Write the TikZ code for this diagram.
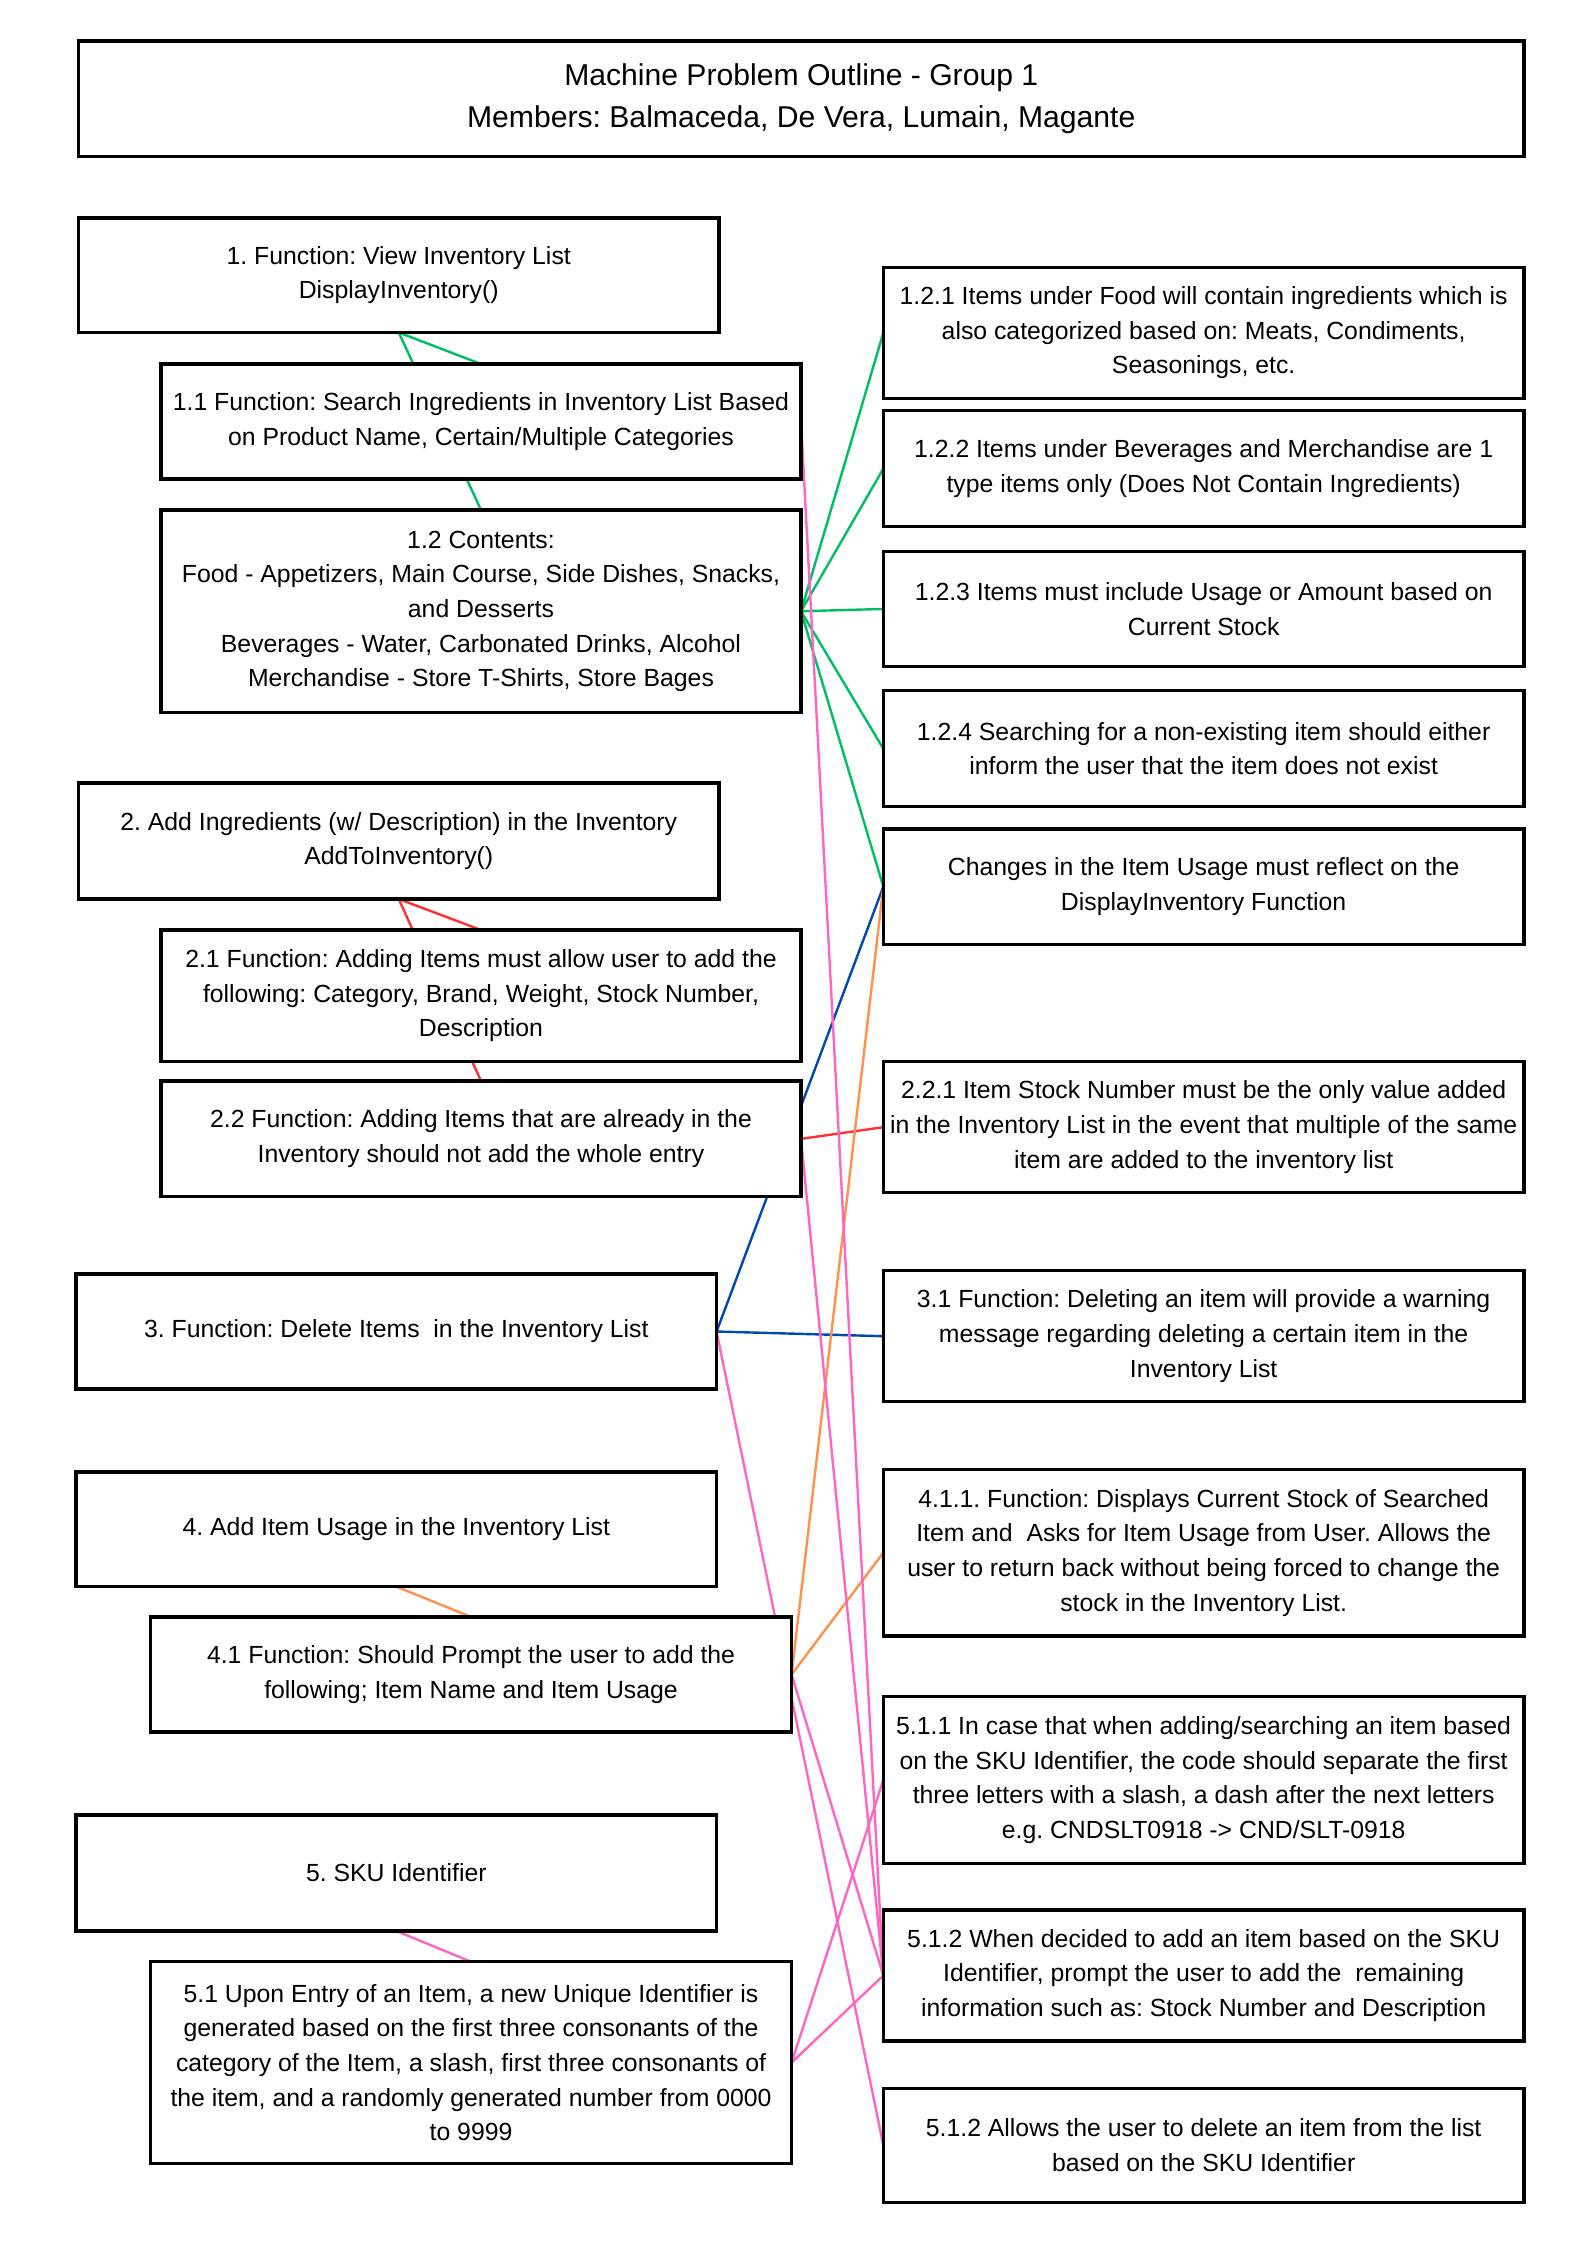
\documentclass[tikz,border=0pt]{standalone}
\usepackage{fontspec}
\setmainfont{Liberation Sans}
\frenchspacing
\usetikzlibrary{calc}
\pgfdeclarelayer{bottom}
\pgfdeclarelayer{background}
\pgfsetlayers{bottom,background,main}
\definecolor{cgreen}{HTML}{00BF63}
\definecolor{cred}{HTML}{FF3131}
\definecolor{cblue}{HTML}{004AAD}
\definecolor{corange}{HTML}{FF914D}
\definecolor{cpink}{HTML}{FF66C4}
\tikzset{
  box/.style={draw=black, line width=1.25pt, fill=white, rectangle, inner sep=0pt, outer sep=0pt, align=center, font=\fontsize{9.3}{13}\selectfont},
  titlebox/.style={box, font=\fontsize{11.3}{15.8}\selectfont},
  link/.style={line width=0.9pt},
}
\newcommand\mkbox[7]{%
  \pgfmathsetlengthmacro\bw{((#5)-(#3))*0.375pt}%
  \pgfmathsetlengthmacro\bh{((#6)-(#4))*0.375pt}%
  \node[#1, minimum width=\bw, minimum height=\bh] (#2) at ({((#3)+(#5))/2},{((#4)+(#6))/2}) {#7};}
\begin{document}
\begin{tikzpicture}[x=0.375pt,y=-0.375pt]
\begin{pgfonlayer}{bottom}
\fill[white] (0,0) rectangle (1587,2245);
\end{pgfonlayer}
\useasboundingbox (0,0) rectangle (1587,2245);
% title
\mkbox{titlebox}{title}{78.5}{41}{1524}{156.5}{Machine Problem Outline - Group 1\\Members: Balmaceda, De Vera, Lumain, Magante}
% left column
\mkbox{box}{b1}{78.5}{218}{719}{332.5}{1. Function: View Inventory List\\DisplayInventory()}
\mkbox{box}{b11}{161}{364}{801}{479}{1.1 Function: Search Ingredients in Inventory List Based\\on Product Name, Certain/Multiple Categories}
\mkbox{box}{b12}{161}{510}{801}{712.5}{1.2 Contents:\\Food - Appetizers, Main Course, Side Dishes, Snacks,\\and Desserts\\Beverages - Water, Carbonated Drinks, Alcohol\\Merchandise - Store T-Shirts, Store Bages}
\mkbox{box}{b2}{78.5}{783}{719}{899}{2. Add Ingredients (w/ Description) in the Inventory\\AddToInventory()}
\mkbox{box}{b21}{161}{930}{801}{1061.5}{2.1 Function: Adding Items must allow user to add the\\following: Category, Brand, Weight, Stock Number,\\Description}
\mkbox{box}{b22}{161}{1081}{801}{1196.7}{2.2 Function: Adding Items that are already in the\\Inventory should not add the whole entry}
\mkbox{box}{b3}{76}{1274}{716.6}{1389}{3. Function: Delete Items\ \ in the Inventory List}
\mkbox{box}{b4}{76}{1472}{716.6}{1586.5}{4. Add Item Usage in the Inventory List}
\mkbox{box}{b41}{150.5}{1617}{791.6}{1732}{4.1 Function: Should Prompt the user to add the\\following; Item Name and Item Usage}
\mkbox{box}{b5}{76}{1815}{716.6}{1931}{5. SKU Identifier}
\mkbox{box}{b51}{150.5}{1961.7}{791.6}{2163.3}{5.1 Upon Entry of an Item, a new Unique Identifier is\\generated based on the first three consonants of the\\category of the Item, a slash, first three consonants of\\the item, and a randomly generated number from 0000\\to 9999}
% right column
\mkbox{box}{r121}{883.3}{267.3}{1524}{398.3}{1.2.1 Items under Food will contain ingredients which is\\also categorized based on: Meats, Condiments,\\Seasonings, etc.}
\mkbox{box}{r122}{883.3}{410.7}{1524}{526.7}{1.2.2 Items under Beverages and Merchandise are 1\\type items only (Does Not Contain Ingredients)}
\mkbox{box}{r123}{883.3}{551.2}{1524}{666.7}{1.2.3 Items must include Usage or Amount based on\\Current Stock}
\mkbox{box}{r124}{883.3}{690.7}{1524}{806.7}{1.2.4 Searching for a non-existing item should either\\inform the user that the item does not exist}
\mkbox{box}{rch}{883.3}{829}{1524}{944.3}{Changes in the Item Usage must reflect on the\\DisplayInventory Function}
\mkbox{box}{r221}{883.3}{1061.7}{1524}{1192.7}{2.2.1 Item Stock Number must be the only value added\\in the Inventory List in the event that multiple of the same\\item are added to the inventory list}
\mkbox{box}{r31}{883.3}{1270.7}{1524}{1401.7}{3.1 Function: Deleting an item will provide a warning\\message regarding deleting a certain item in the\\Inventory List}
\mkbox{box}{r411}{883.3}{1469.3}{1524}{1636}{4.1.1. Function: Displays Current Stock of Searched\\Item and\ \ Asks for Item Usage from User. Allows the\\user to return back without being forced to change the\\stock in the Inventory List.}
\mkbox{box}{r511}{883.3}{1696.7}{1524}{1863.3}{5.1.1 In case that when adding/searching an item based\\on the SKU Identifier, the code should separate the first\\three letters with a slash, a dash after the next letters\\e.g. CNDSLT0918 -> CND/SLT-0918}
\mkbox{box}{r512a}{883.3}{1910}{1524}{2041}{5.1.2 When decided to add an item based on the SKU\\Identifier, prompt the user to add the\ \ remaining\\information such as: Stock Number and Description}
\mkbox{box}{r512b}{883.3}{2088.3}{1524}{2202.3}{5.1.2 Allows the user to delete an item from the list\\based on the SKU Identifier}
% connectors
\begin{pgfonlayer}{background}
\draw[link, cgreen] (b11.north) -- (b1.south);
\draw[link, cgreen] (b12.north) -- (b1.south);
\foreach \t in {r121,r122,r123,r124,rch} \draw[link, cgreen] (b12.east) -- (\t.west);
\draw[link, cred] (b21.north) -- (b2.south);
\draw[link, cred] (b22.north) -- (b2.south);
\draw[link, cred] (b22.east) -- (r221.west);
\draw[link, cblue] (b3.east) -- (rch.west);
\draw[link, cblue] (b3.east) -- (r31.west);
\draw[link, corange] (b4.south) -- (b41.north);
\draw[link, corange] (b41.east) -- (rch.west);
\draw[link, corange] (b41.east) -- (r411.west);
\draw[link, cpink] (b5.south) -- (b51.north);
\draw[link, cpink] (b11.east) -- (r512a.west);
\draw[link, cpink] (b22.east) -- (r512a.west);
\draw[link, cpink] (b41.east) -- (r512a.west);
\draw[link, cpink] (b51.east) -- (r512a.west);
\draw[link, cpink] (b51.east) -- (r511.west);
\draw[link, cpink] (b3.east) -- (r512b.west);
\end{pgfonlayer}
\end{tikzpicture}
\end{document}
